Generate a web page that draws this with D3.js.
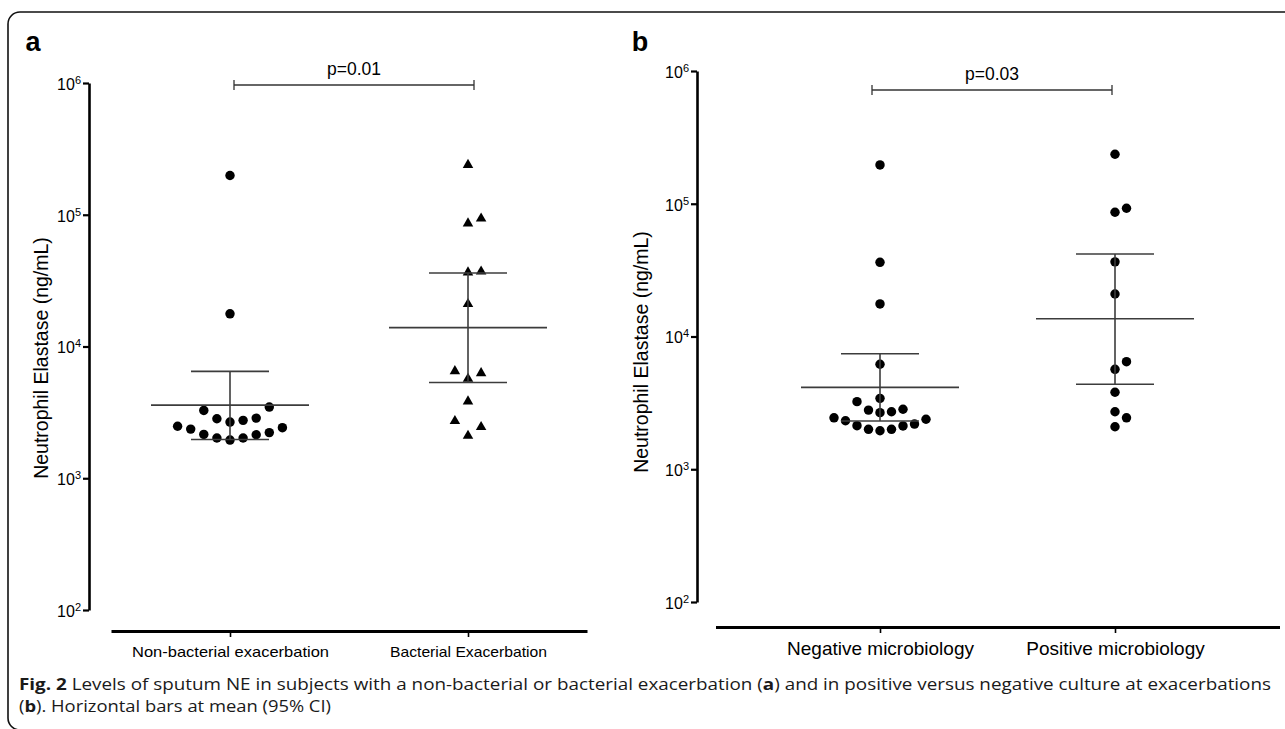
<!DOCTYPE html>
<html>
<head>
<meta charset="utf-8">
<script src="https://cdn.jsdelivr.net/npm/d3@7"></script>
<style>
body { margin: 0; background: #fff; }
svg text { font-family: "Liberation Sans", Arial, sans-serif; fill: #000; }
.caption { font-family: "Open Sans", sans-serif; fill: #1a1a1a; }
</style>
</head>
<body>
<svg id="fig" width="1285" height="729"></svg>
<script>
// ---- data (ng/mL) ----
var groupsA = ["Non-bacterial exacerbation", "Bacterial Exacerbation"];
var nonBacterial = [198600, 17700, 3470, 3270, 2860, 2750, 2670, 2830, 2480, 2360, 2150, 2140, 2220, 2420, 2020, 1950, 2020];
var bacterial = [239000, 93700, 85900, 37100, 36500, 21000, 6500, 6280, 5690, 3830, 2720, 2450, 2100];
var meanA = [3590, 13900];
var ciLowA = [1970, 5330];
var ciHighA = [6470, 36100];

var groupsB = ["Negative microbiology", "Positive microbiology"];
var negativeMicro = [196000, 36200, 17600, 6180, 3230, 3420, 2790, 2670, 2710, 2830, 2440, 2320, 2380, 2130, 2000, 1950, 2000, 2120, 2190];
var positiveMicro = [236000, 92500, 86300, 36500, 20900, 6460, 5660, 3800, 2710, 2440, 2090];
var meanB = [4140, 13600];
var ciLowB = [2310, 4370];
var ciHighB = [7420, 41800];

var yTicks = [100, 1000, 10000, 100000, 1000000];
var pValues = ["p=0.01", "p=0.03"];

var svg = d3.select("#fig");

// frame
svg.append("rect").attr("x", 8).attr("y", 12).attr("width", 1300).attr("height", 718)
  .attr("rx", 12).attr("fill", "none").attr("stroke", "#111").attr("stroke-width", 1.6);

// Prism-like scatter: points go into columns `step` apart, nearest the centre first;
// two points in one column must be at least `gap` px apart vertically
function swarm(values, y, step, gap) {
  var pts = values.map(function(v) { return {v: v, y: y(v)}; });
  pts.sort(function(a, b) { return b.y - a.y; });
  var cols = {};
  pts.forEach(function(p) {
    for (var k = 0; k < 40; k++) {
      var c = k === 0 ? 0 : (k % 2 ? (k + 1) / 2 : -k / 2);
      var used = cols[c] || [];
      var ok = used.every(function(yy) { return Math.abs(yy - p.y) >= gap; });
      if (ok) { p.dx = c * step; used.push(p.y); cols[c] = used; break; }
    }
  });
  return pts;
}

function panel(o) {
  var g = svg.append("g");
  var x = d3.scalePoint().domain(o.groups).range(o.xRange).padding(o.pad);
  var y = d3.scaleLog().domain([100, 1000000]).range(o.yRange);

  // y axis
  var ya = g.append("g").attr("transform", "translate(" + o.axisX + ",0)")
    .call(d3.axisLeft(y).tickValues(yTicks).tickSize(6).tickSizeOuter(0).tickFormat(""));
  ya.select(".domain").attr("stroke-width", 2.6);
  ya.selectAll(".tick line").attr("stroke-width", 2.2);
  ya.selectAll(".tick").append("text")
    .attr("x", -8).attr("dy", "0.4em").attr("text-anchor", "end")
    .style("font-size", "16px").attr("fill", "#111")
    .each(function(d) {
      var t = d3.select(this);
      t.append("tspan").text("10");
      t.append("tspan").attr("dy", "-0.55em").style("font-size", "11px").text(Math.round(Math.log10(d)));
    });

  g.append("text")
    .attr("transform", "translate(" + o.labelX + "," + o.labelY + ") rotate(-90)")
    .attr("text-anchor", "middle").style("font-size", "19.5px").attr("fill", "#111")
    .text("Neutrophil Elastase (ng/mL)");

  // x axis
  var xa = g.append("g").attr("transform", "translate(0," + o.axisY + ")")
    .call(d3.axisBottom(x).tickSize(6).tickSizeOuter(0).tickPadding(9));
  xa.select(".domain").attr("stroke-width", 3);
  xa.selectAll(".tick line").attr("stroke-width", 1.6);
  xa.selectAll(".tick text").style("font-size", o.xFont).attr("fill", "#111");
  if (o.xWidth) {
    xa.selectAll(".tick text")
      .attr("textLength", function(d, i) { return o.xWidth[i]; })
      .attr("lengthAdjust", "spacingAndGlyphs");
  }

  // points
  o.series.forEach(function(vals, i) {
    var cx = x(o.groups[i]);
    var pts = swarm(vals, y, o.step, o.gap);
    var sym = o.symbols[i];
    g.append("g").selectAll("path").data(pts).enter().append("path")
      .attr("transform", function(p) { return "translate(" + (cx + p.dx) + "," + p.y + ")"; })
      .attr("d", d3.symbol().type(sym === "tri" ? d3.symbolTriangle : d3.symbolCircle).size(sym === "tri" ? 48 : 70))
      .attr("fill", "#000");

    // mean and 95% CI
    var lc = "#3c3c3c";
    g.append("line").attr("x1", cx).attr("x2", cx).attr("y1", y(o.lo[i])).attr("y2", y(o.hi[i]))
      .attr("stroke", lc).attr("stroke-width", 1.6);
    [o.lo[i], o.hi[i]].forEach(function(v) {
      g.append("line").attr("x1", cx - 39).attr("x2", cx + 39).attr("y1", y(v)).attr("y2", y(v))
        .attr("stroke", lc).attr("stroke-width", 1.6);
    });
    g.append("line").attr("x1", cx - 79).attr("x2", cx + 79).attr("y1", y(o.mean[i])).attr("y2", y(o.mean[i]))
      .attr("stroke", lc).attr("stroke-width", 1.6);
  });

  // significance bracket
  var bx0 = x(o.groups[0]) + o.bOff[0], bx1 = x(o.groups[1]) + o.bOff[1];
  var br = g.append("g").attr("stroke", "#333").attr("stroke-width", 1.3);
  br.append("line").attr("x1", bx0).attr("x2", bx1).attr("y1", o.bY).attr("y2", o.bY);
  br.append("line").attr("x1", bx0).attr("x2", bx0).attr("y1", o.bY - 5).attr("y2", o.bY + 5);
  br.append("line").attr("x1", bx1).attr("x2", bx1).attr("y1", o.bY - 5).attr("y2", o.bY + 5);
  g.append("text").attr("x", (bx0 + bx1) / 2).attr("y", o.bY - 10).attr("text-anchor", "middle")
    .style("font-size", "17.5px").attr("fill", "#111").text(o.p);

  g.append("text").attr("x", o.tagX).attr("y", 51).attr("text-anchor", "middle")
    .style("font-size", "27px").style("font-weight", "bold").text(o.tag);
}

panel({
  groups: groupsA, series: [nonBacterial, bacterial], symbols: ["dot", "tri"],
  mean: meanA, lo: ciLowA, hi: ciHighA, p: pValues[0], tag: "a", tagX: 33,
  xRange: [111, 587], pad: 0.5, yRange: [610, 83], axisX: 89, axisY: 631,
  labelX: 48, labelY: 358, xFont: "15px", xWidth: [197, 157], step: 13.1, gap: 15, bY: 85, bOff: [4, 6]
});

panel({
  groups: groupsB, series: [negativeMicro, positiveMicro], symbols: ["dot", "dot"],
  mean: meanB, lo: ciLowB, hi: ciHighB, p: pValues[1], tag: "b", tagX: 640,
  xRange: [715.5, 1279.5], pad: 0.7, yRange: [602, 71], axisX: 697, axisY: 627,
  labelX: 648, labelY: 352, xFont: "19px", step: 11.5, gap: 14, bY: 90, bOff: [-8, -3]
});

// caption, squeezed to the width of the printed one
var cap1 = svg.append("text").attr("class", "caption").attr("x", 19).attr("y", 690)
  .style("font-size", "16.5px").attr("textLength", 1252).attr("lengthAdjust", "spacingAndGlyphs");
cap1.append("tspan").style("font-weight", "bold").text("Fig. 2");
cap1.append("tspan").text(" Levels of sputum NE in subjects with a non-bacterial or bacterial exacerbation (");
cap1.append("tspan").style("font-weight", "bold").text("a");
cap1.append("tspan").text(") and in positive versus negative culture at exacerbations");

var cap2 = svg.append("text").attr("class", "caption").attr("x", 19).attr("y", 712)
  .style("font-size", "16.5px").attr("textLength", 312).attr("lengthAdjust", "spacingAndGlyphs");
cap2.append("tspan").text("(");
cap2.append("tspan").style("font-weight", "bold").text("b");
cap2.append("tspan").text("). Horizontal bars at mean (95% CI)");
</script>
</body>
</html>
